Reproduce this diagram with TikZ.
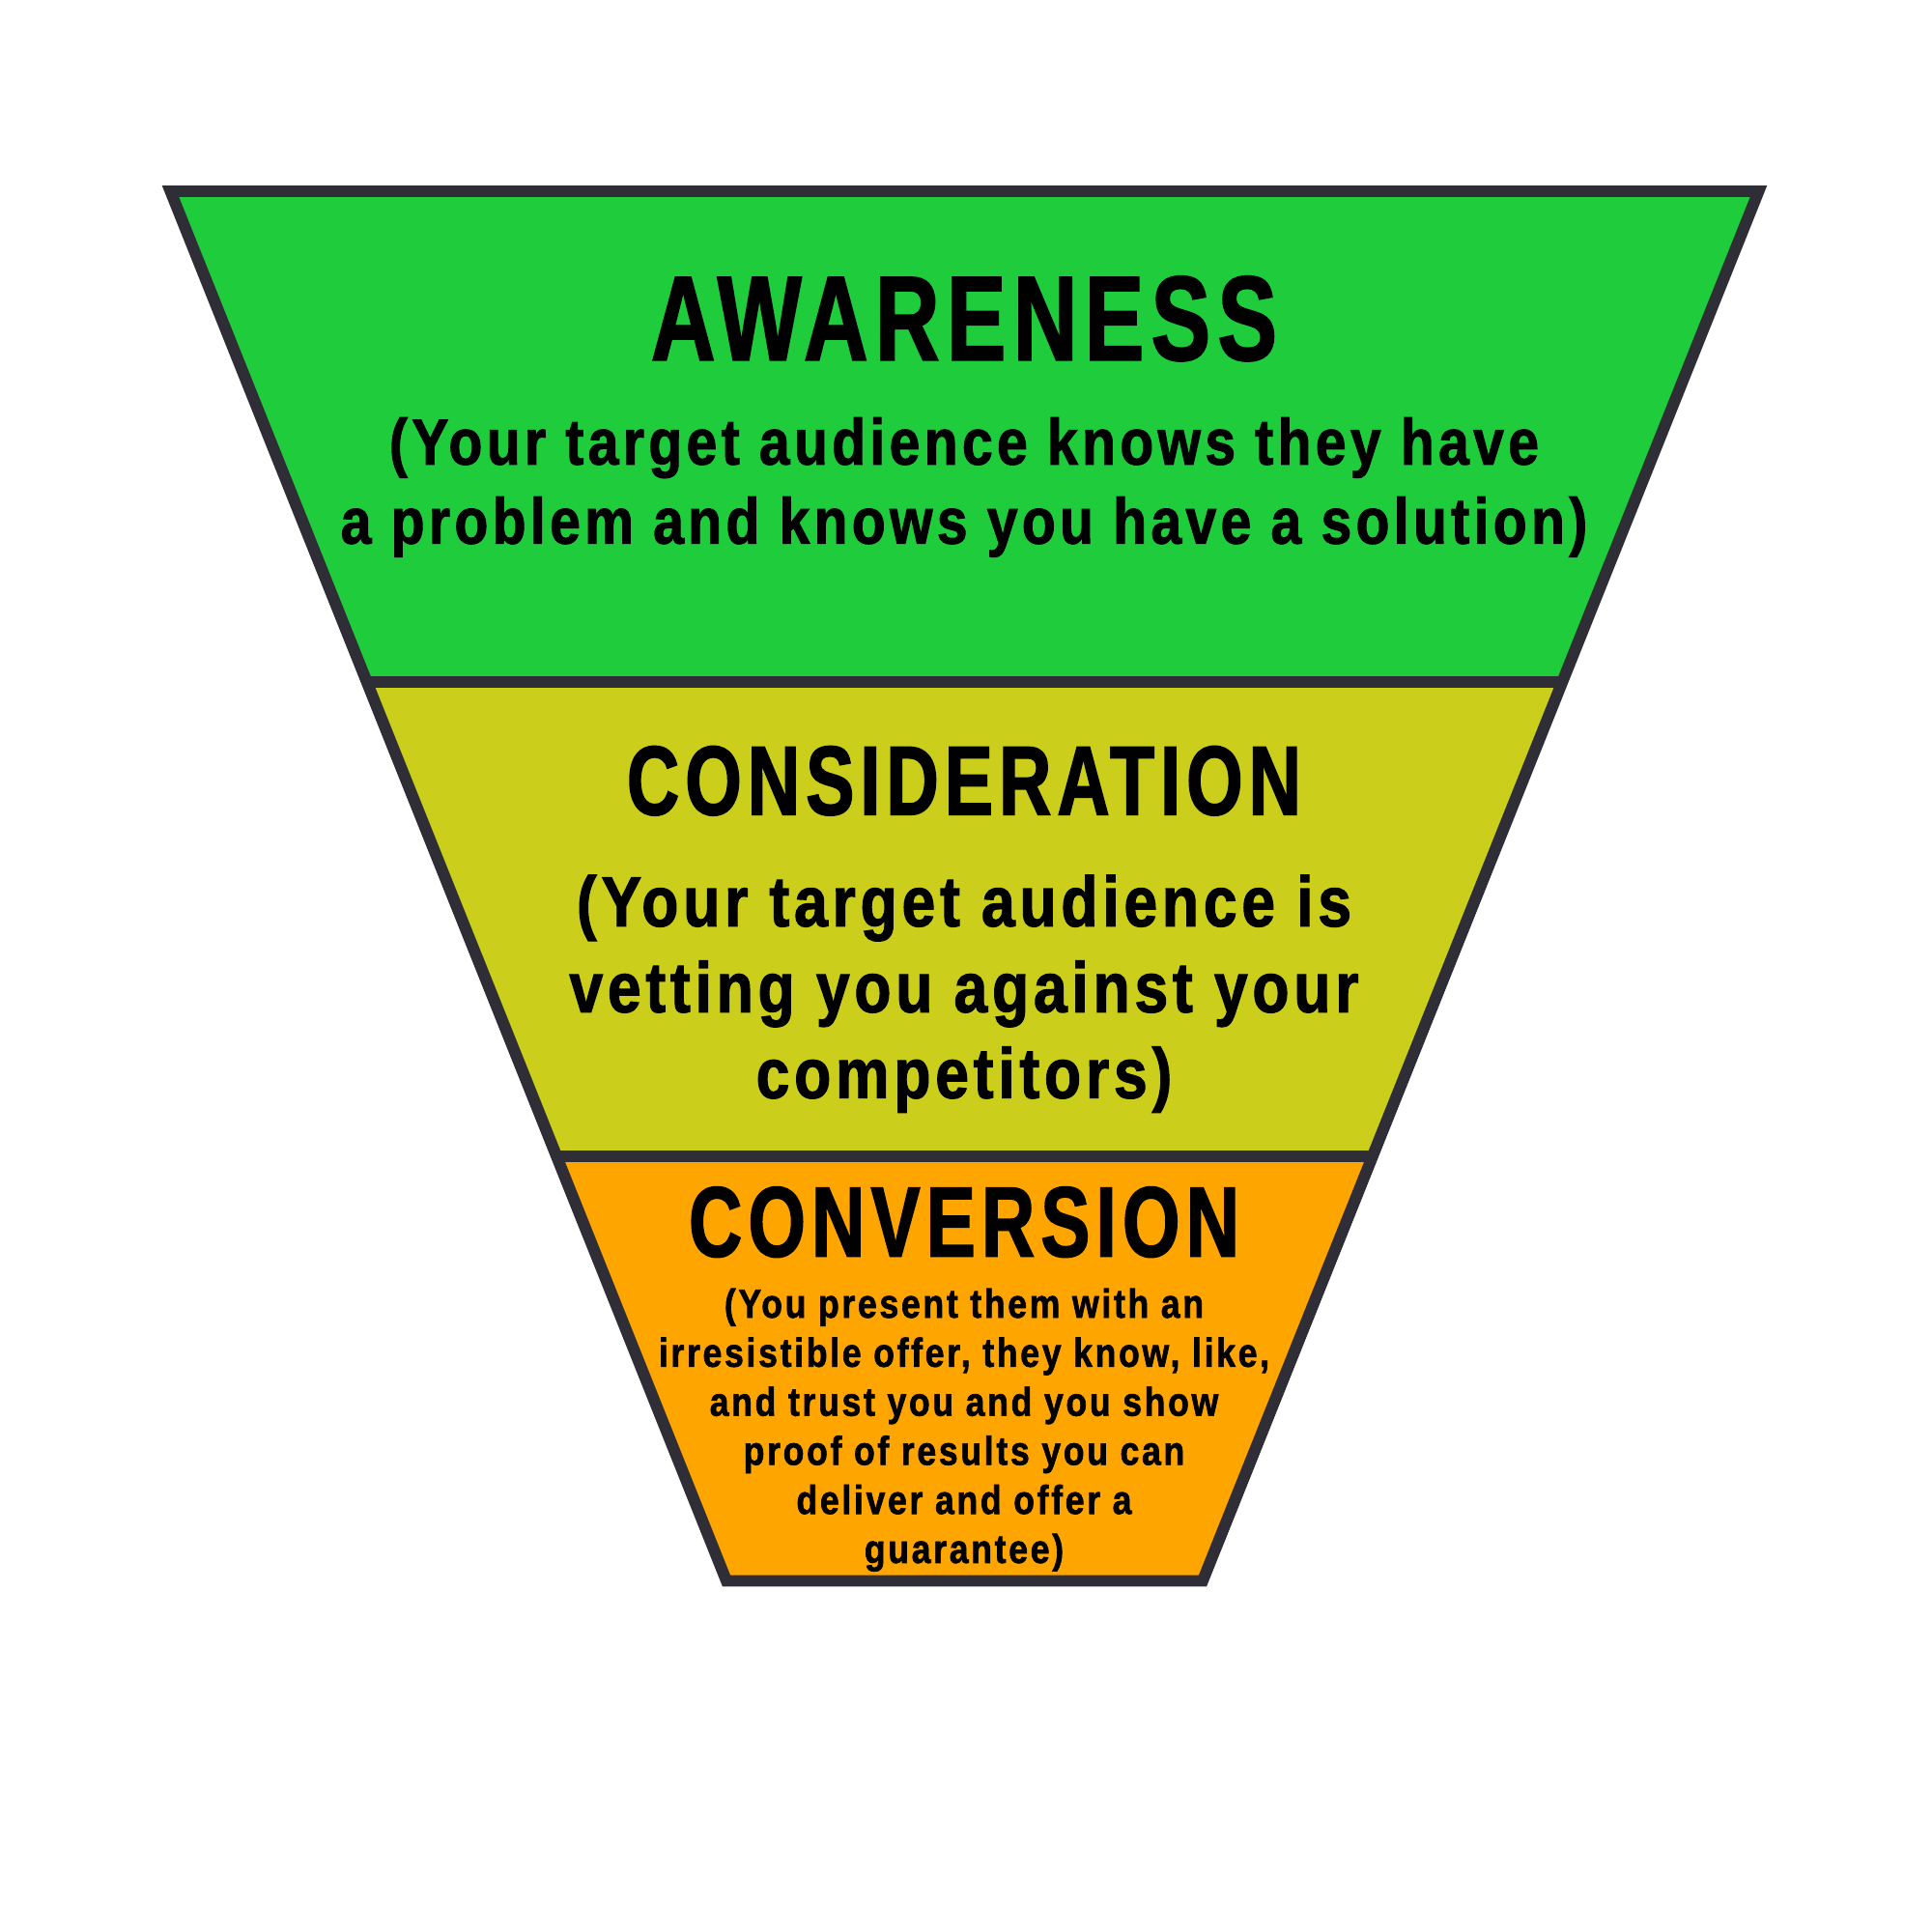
\documentclass[tikz,border=0pt]{standalone}
\usepackage{fontspec}
\usepackage{tikz}
\newfontfamily\headfont{Liberation Sans}[FakeStretch = 0.74, LetterSpace = 6, FakeBold = 1.5]
\newfontfamily\blurbfont{Liberation Sans}[FakeStretch = 0.85, LetterSpace = 6.5, FakeBold = 1.5]
\definecolor{edge}{RGB}{47,46,55}
\definecolor{aware}{RGB}{30,204,60}
\definecolor{consider}{RGB}{203,206,26}
\definecolor{convert}{RGB}{255,165,0}

\begin{document}
\begin{tikzpicture}[line width = 3.4pt,
    stage/.style = {draw = edge, line join = miter},
    head/.style = {anchor = base, inner sep = 0pt, font = \headfont\bfseries\fontsize{#1}{#1}\selectfont},
    blurb/.style 2 args = {anchor = base, inner sep = 0pt, align = center,
                           font = \blurbfont\bfseries\fontsize{#1}{#2}\selectfont}]
  \fill[white] (0, 0) rectangle (20, 20);
  \useasboundingbox (0, 0) rectangle (20, 20);
  % corners of the funnel
  \coordinate (t1) at (1.765, 18.02);
  \coordinate (t2) at (18.205, 18.02);
  \coordinate (m1) at (3.80, 12.94);
  \coordinate (m2) at (16.17, 12.94);
  \coordinate (n1) at (5.76, 8.03);
  \coordinate (n2) at (14.21, 8.03);
  \coordinate (b1) at (7.52, 3.635);
  \coordinate (b2) at (12.45, 3.635);
  \fill[aware] (t1) -- (t2) -- (m2) -- (m1) -- cycle;
  \fill[consider] (m1) -- (m2) -- (n2) -- (n1) -- cycle;
  \fill[convert] (n1) -- (n2) -- (b2) -- (b1) -- cycle;
  \draw[stage] (t1) -- (t2) -- (b2) -- (b1) -- cycle;
  \draw[stage] (m1) -- (m2);
  \draw[stage] (n1) -- (n2);
  % labels (base of a blurb is its last line)
  \node[head = {35.4}] (awareness) at (9.98, 16.273) {AWARENESS};
  \node[blurb = {19.1}{23.3}] (awaretext) at (9.98, 14.373)
    {(Your target audience knows they have\\a problem and knows you have a solution)};
  \node[head = {28.9}] (consideration) at (9.98, 11.567) {CONSIDERATION};
  \node[blurb = {20.9}{25.3}] (considertext) at (9.98, 8.633)
    {(Your target audience is\\vetting you against your\\competitors)};
  \node[head = {29.4}] (conversion) at (9.98, 6.993) {CONVERSION};
  \node[blurb = {11.9}{14.45}] (converttext) at (9.98, 3.82)
    {(You present them with an\\irresistible offer, they know, like,\\and trust you and you show\\proof of results you can\\deliver and offer a\\guarantee)};
\end{tikzpicture}
\end{document}
